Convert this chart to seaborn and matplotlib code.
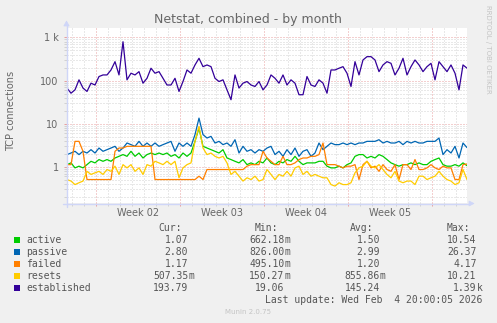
import numpy as np
import pandas as pd
import matplotlib
matplotlib.use('Agg')
import matplotlib.pyplot as plt
import matplotlib.dates as mdates
import matplotlib.ticker as mticker
import matplotlib.transforms as mtransforms
from matplotlib.patches import Rectangle, Polygon
from matplotlib.lines import Line2D
import seaborn as sns

# ---------------- data ----------------
start_time = '2026-01-02 14:40'
n_points = 101
step = '8h'

active = [1.13, 1.24, 0.95, 1.04, 0.95, 1.13, 1.35, 1.24, 1.48, 1.35, 1.48, 1.35, 1.61, 1.76, 1.93,
          1.76, 2.30, 1.76, 2.10, 1.61, 1.93, 2.10, 1.93, 2.10, 1.93, 2.10,
          1.76, 1.93, 1.61, 2.10, 1.76, 2.10, 3.91, 7.9, 3.0, 2.74, 2.51, 2.30, 2.10, 2.51, 1.61,
          1.48, 1.35, 1.24, 1.48, 1.13, 1.24, 1.13, 1.35, 1.24, 1.61,
          1.24, 1.13, 1.35, 1.24, 1.48, 1.35, 1.76, 1.35, 1.13, 1.24, 1.24, 1.24, 1.35, 1.35, 1.04,
          0.95, 0.95, 1.04, 0.95, 1.13, 1.24, 1.76, 1.93, 1.93, 1.61,
          1.76, 1.61, 1.93, 1.76, 1.48, 1.24, 1.13, 1.04, 1.13, 1.13, 1.24, 1.13, 1.24, 1.13, 1.13,
          1.35, 1.48, 1.61, 1.13, 1.04, 1.04, 1.13, 1.04, 1.24, 1.07]

passive = [1.93, 2.10, 2.30, 1.93, 2.30, 2.10, 2.51, 2.10, 2.74, 2.30, 2.51, 2.74, 3.0, 2.30, 2.74,
           3.58, 3.28, 3.0, 3.91, 3.0, 3.58, 3.0, 3.58, 3.0, 3.28, 3.58,
           3.91, 2.30, 3.58, 3.0, 3.58, 3.0, 5.6, 13.5, 5.6, 4.67, 5.1, 3.58, 3.91, 3.28, 3.58,
           3.0, 4.27, 2.10, 3.0, 2.30, 2.51, 2.10, 2.51, 2.30, 2.74,
           3.0, 1.93, 2.30, 1.76, 2.51, 1.93, 2.74, 1.76, 2.30, 2.51, 1.76, 2.10, 3.58, 2.51, 3.0,
           3.58, 3.28, 3.28, 3.58, 3.28, 3.58, 3.28, 3.58, 3.58, 3.91,
           3.91, 3.91, 4.27, 3.58, 3.91, 3.58, 3.58, 3.91, 3.28, 3.91, 3.58, 3.91, 3.58, 3.58, 3.91,
           3.91, 3.91, 4.67, 1.93, 2.51, 2.10, 3.0, 1.61, 3.58, 2.80]

failed = [1.13, 1.13, 3.91, 3.91, 2.30, 0.51, 0.51, 0.51, 0.51, 0.51, 0.51, 0.51, 2.30, 2.74, 2.74,
          3.0, 3.0, 3.0, 3.0, 3.0, 3.0, 3.0, 0.51, 0.51, 0.51, 0.51,
          0.51, 0.51, 0.51, 0.51, 0.51, 0.51, 0.51, 0.61, 0.51, 0.87, 0.87, 0.87, 0.87, 0.87, 0.87,
          0.87, 0.87, 0.87, 0.87, 1.04, 1.13, 1.13, 1.13, 2.30, 1.61,
          1.35, 1.13, 1.13, 1.76, 1.13, 1.13, 1.24, 1.48, 1.61, 1.61, 1.76, 1.76, 1.93, 3.58, 1.13,
          1.13, 1.13, 1.04, 0.95, 1.04, 1.04, 1.13, 0.51, 1.13, 1.35,
          0.95, 1.04, 0.79, 1.13, 0.87, 0.79, 1.13, 0.51, 1.13, 1.13, 0.87, 1.48, 0.87, 0.87, 0.95,
          1.13, 0.95, 0.87, 1.04, 0.95, 0.95, 0.51, 0.51, 1.13, 1.17]

resets = [0.51, 0.47, 0.39, 0.43, 0.47, 0.79, 0.67, 0.73, 0.79, 0.67, 0.87, 0.79, 1.04, 0.67, 1.13,
          0.95, 1.13, 0.79, 0.95, 0.67, 1.13, 1.04, 1.35, 1.24, 1.13, 1.35,
          1.13, 1.35, 0.56, 0.95, 1.13, 1.24, 3.91, 8.7, 2.74, 1.93, 2.10, 1.76, 1.61, 1.76, 1.24,
          0.67, 0.79, 0.61, 0.47, 0.56, 0.51, 0.61, 0.47, 0.51, 0.87,
          0.67, 0.51, 0.67, 0.61, 0.79, 0.61, 0.95, 1.04, 0.67, 0.79, 0.61, 0.67, 0.61, 0.56, 0.56,
          0.39, 0.36, 0.43, 0.39, 0.39, 0.43, 0.73, 0.95, 1.04, 1.35,
          1.04, 0.95, 1.13, 0.87, 0.67, 0.56, 0.79, 0.47, 0.43, 0.47, 0.47, 0.39, 0.61, 0.61, 0.51,
          0.56, 0.61, 0.79, 0.61, 0.51, 0.47, 0.39, 0.43, 0.87, 0.51]

established = [67, 51, 61, 104, 67, 56, 87, 79, 124, 135, 135, 176, 274, 135, 794,
               104, 148, 135, 161, 87, 113, 193, 148, 161, 113, 79,
               79, 113, 56, 95, 176, 148, 230, 328, 210, 230, 210, 113, 95, 104, 61,
               36, 135, 67, 87, 95, 79, 73, 95, 61, 79,
               135, 113, 87, 135, 79, 104, 87, 47, 47, 124, 79, 73, 104, 87, 51,
               176, 176, 193, 210, 148, 73, 274, 135, 300, 358,
               358, 300, 161, 230, 274, 251, 135, 193, 328, 135, 210, 300, 230, 161, 210,
               251, 104, 274, 210, 161, 230, 148, 61, 230, 193.79]

series_names = ['active', 'passive', 'failed', 'resets', 'established']
series_colors = ['#00CC00', '#0066B3', '#FF8000', '#FFCC00', '#330099']
series_values = [active, passive, failed, resets, established]

cur_vals = ['1.07', '2.80', '1.17', '507.35m', '193.79']
min_vals = ['662.18m', '826.00m', '495.10m', '150.27m', '19.06']
avg_vals = ['1.50', '2.99', '1.20', '855.86m', '145.24']
max_vals = ['10.54', '26.37', '4.17', '10.21', '1.39k']
col_headers = ['Cur:', 'Min:', 'Avg:', 'Max:']

y_ticks = [1, 10, 100, 1000]
y_ticklabels = ['1', '10', '100', '1 k']
week_starts = ['2026-01-05', '2026-01-12', '2026-01-19', '2026-01-26', '2026-02-02']
week_labels = ['Week 02', 'Week 03', 'Week 04', 'Week 05']

title = 'Netstat, combined - by month'
ylabel = 'TCP connections'
last_update = 'Last update: Wed Feb  4 20:00:05 2026'
footer = 'Munin 2.0.75'
watermark = 'RRDTOOL / TOBI OETIKER'

# ---------------- style ----------------
sns.set_theme(style='white')
plt.rcParams['font.family'] = ['DejaVu Sans']

W, H = 497, 323
BG = '#F0F0F0'
FONT = '#666666'
LEG = '#555555'
AXISC = '#CFD6F8'
GRIDC = '#D2D2D2'
MGRIDC = '#E8A0A0'


def fx(px):
    return px / W


def fy(py):
    return 1 - py / H


fig = plt.figure(figsize=(W / 100, H / 100), dpi=100, facecolor=BG)
ax = fig.add_axes([fx(67), fy(203), 400 / W, 175 / H])
ax.set_facecolor('white')

times = pd.date_range(start_time, periods=n_points, freq=step)

for name, vals, col in zip(series_names, series_values, series_colors):
    sns.lineplot(x=times, y=vals, ax=ax, color=col, linewidth=0.9,
                 estimator=None, zorder=3)

ax.set_yscale('log')
ax.set_ylim(0.146, 1650)
ax.set_xlim(times[0], times[-1])
ax.set_xlabel('')
ax.set_ylabel('')

for s in ax.spines.values():
    s.set_visible(False)

# x ticks: Mondays major, days minor
mondays = pd.to_datetime(week_starts)
days = pd.date_range('2026-01-03', '2026-02-04', freq='D')
ax.set_xticks(mdates.date2num(mondays))
ax.set_xticks(mdates.date2num(days), minor=True)
ax.tick_params(axis='x', which='both', labelbottom=False)

# y ticks
ax.yaxis.set_major_locator(mticker.FixedLocator(y_ticks))
ax.yaxis.set_major_formatter(mticker.FixedFormatter(y_ticklabels))
ax.yaxis.set_minor_locator(mticker.LogLocator(base=10, subs=np.arange(2, 10), numticks=30))
ax.yaxis.set_minor_formatter(mticker.NullFormatter())

ax.set_axisbelow(True)
ax.grid(which='minor', color=GRIDC, linestyle=(0, (1, 2)), linewidth=0.72)
ax.grid(which='major', color=MGRIDC, linestyle=(0, (1, 2)), linewidth=0.72)

ax.tick_params(which='both', direction='out', length=2.5, width=0.72,
               bottom=True, left=True, top=False, right=False)
ax.tick_params(which='major', color=MGRIDC)
ax.tick_params(which='minor', color=GRIDC)
ax.tick_params(axis='y', which='major', labelsize=7, labelcolor=FONT, pad=3.5)

# week labels centred in each week
trans = mtransforms.blended_transform_factory(ax.transData, fig.transFigure)
for ws, lab in zip(mondays[:4], week_labels):
    xc = mdates.date2num(ws + pd.Timedelta(hours=84))
    ax.text(xc, fy(216), lab, transform=trans, ha='center', va='baseline',
            fontsize=7, color=FONT)

# axis lines with arrows
fig.add_artist(Line2D([fx(63), fx(470)], [fy(203.5), fy(203.5)], color=AXISC, lw=1.0))
fig.add_artist(Polygon([(fx(474), fy(203.5)), (fx(469), fy(201)), (fx(469), fy(206))],
                       closed=True, facecolor=AXISC, edgecolor=AXISC, lw=0.5))
fig.add_artist(Line2D([fx(66.5), fx(66.5)], [fy(207), fy(25)], color=AXISC, lw=1.0))
fig.add_artist(Polygon([(fx(66.5), fy(21)), (fx(63.8), fy(26)), (fx(69.2), fy(26))],
                       closed=True, facecolor=AXISC, edgecolor=AXISC, lw=0.5))

# title, y label, watermark
fig.text(fx(247.5), fy(23.3), title, ha='center', va='baseline', fontsize=9, color=FONT)
fig.text(fx(11), fy(110.5), ylabel, rotation=90, ha='center', va='center',
         fontsize=7, color=FONT)
fig.text(fx(488), fy(5), watermark, rotation=270, ha='center', va='top',
         fontsize=5, color='#C4C4C4')

# legend
mono = 'DejaVu Sans Mono'
num_edges = [188.3, 284.3, 380.0, 476.7]
base0 = 243.3
row_h = 12.0
for edge, hdr in zip(num_edges, col_headers):
    fig.text(fx(edge - 6.5), fy(base0 - row_h), hdr, ha='right', va='baseline',
             fontsize=7, family=mono, color=LEG)

columns = [cur_vals, min_vals, avg_vals, max_vals]
for k, (name, col) in enumerate(zip(series_names, series_colors)):
    yb = base0 + row_h * k
    fig.add_artist(Rectangle((fx(14), fy(yb - 0.3)), 6 / W, 6 / H,
                             facecolor=col, edgecolor='none'))
    fig.text(fx(26.3), fy(yb), name, ha='left', va='baseline', fontsize=7,
             family=mono, color=LEG)
    for edge, colvals in zip(num_edges, columns):
        v = colvals[k]
        if v[-1].isalpha():
            num, suf = v[:-1], v[-1]
        else:
            num, suf = v, ''
        fig.text(fx(edge), fy(yb), num, ha='right', va='baseline', fontsize=7,
                 family=mono, color=LEG)
        if suf:
            fig.text(fx(edge), fy(yb), suf, ha='left', va='baseline', fontsize=7,
                     family=mono, color=LEG)

fig.text(fx(482.7), fy(302.8), last_update, ha='right', va='baseline', fontsize=7,
         family=mono, color=LEG)
fig.text(fx(248), fy(312), footer, ha='center', va='center', fontsize=5, color='#C4C4C4')

fig.savefig('out.png', dpi=100, facecolor=BG)
